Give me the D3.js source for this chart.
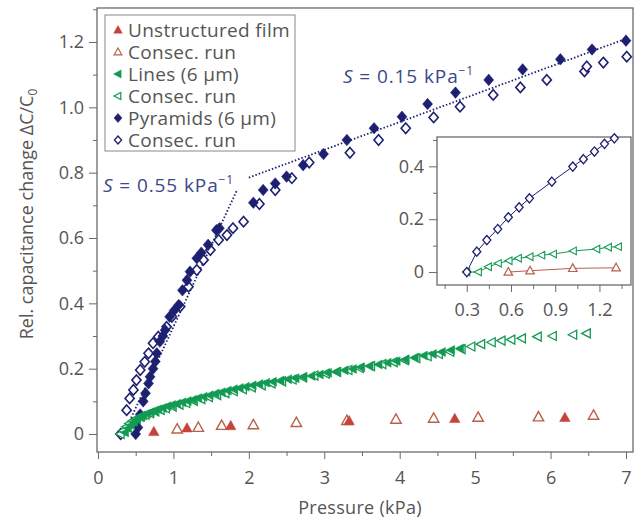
<!DOCTYPE html>
<html>
<head>
<meta charset="utf-8">
<script src="https://cdn.jsdelivr.net/npm/d3@7"></script>
<style>
  body { margin: 0; background: #fff; }
  svg text { font-family: "Open Sans", sans-serif; fill: #555; }
</style>
</head>
<body>
<svg id="chart" width="638" height="520"></svg>
<script>
// pressure (kPa), relative capacitance change
const pyramidsRun1 = [
  [0.50, 0.0], [0.53, 0.02], [0.56, 0.06], [0.60, 0.10], [0.63, 0.125], [0.67, 0.155],
  [0.69, 0.175], [0.73, 0.20], [0.76, 0.222], [0.78, 0.247], [0.82, 0.283], [0.86, 0.30],
  [0.89, 0.318], [0.95, 0.359], [1.01, 0.378], [1.07, 0.395], [1.12, 0.44], [1.18, 0.471],
  [1.22, 0.497], [1.31, 0.538], [1.37, 0.555], [1.46, 0.579], [1.57, 0.624], [1.61, 0.630],
  [2.06, 0.708], [2.19, 0.747], [2.35, 0.767], [2.50, 0.788], [2.72, 0.823], [2.99, 0.857],
  [3.30, 0.900], [3.66, 0.936], [4.03, 0.971], [4.37, 1.010], [4.74, 1.045], [5.18, 1.084],
  [5.63, 1.116], [6.13, 1.147], [6.55, 1.177], [7.00, 1.204]
];
const pyramidsRun2 = [
  [0.30, 0.0], [0.38, 0.073], [0.42, 0.109], [0.47, 0.135], [0.51, 0.165], [0.56, 0.196],
  [0.62, 0.221], [0.67, 0.247], [0.73, 0.278], [0.80, 0.298], [0.91, 0.328], [0.98, 0.359],
  [1.09, 0.390], [1.20, 0.451], [1.31, 0.502], [1.40, 0.533], [1.49, 0.563], [1.60, 0.594],
  [1.71, 0.609], [1.79, 0.630], [1.93, 0.650], [2.14, 0.704], [2.35, 0.747], [2.57, 0.783],
  [2.80, 0.831], [3.34, 0.861], [3.72, 0.900], [4.08, 0.936], [4.45, 0.969], [4.80, 1.002],
  [5.24, 1.038], [5.60, 1.061], [5.95, 1.084], [6.45, 1.110], [6.48, 1.125], [6.70, 1.137],
  [7.01, 1.155]
];
const linesRun1 = [
  [0.36, 0.005], [0.40, 0.018], [0.44, 0.028], [0.48, 0.038], [0.52, 0.045], [0.56, 0.051],
  [0.60, 0.057], [0.65, 0.062], [0.70, 0.067], [0.75, 0.071], [0.80, 0.076], [0.86, 0.080],
  [0.92, 0.085], [0.98, 0.089], [1.05, 0.093], [1.12, 0.097], [1.19, 0.101], [1.26, 0.105],
  [1.33, 0.110], [1.40, 0.114], [1.48, 0.119], [1.56, 0.124], [1.64, 0.128], [1.72, 0.133],
  [1.80, 0.137], [1.88, 0.141], [1.96, 0.145], [2.05, 0.149], [2.14, 0.153], [2.23, 0.157],
  [2.32, 0.160], [2.42, 0.164], [2.52, 0.168], [2.62, 0.171], [2.72, 0.175], [2.83, 0.178],
  [2.94, 0.182], [3.05, 0.187], [3.16, 0.191], [3.27, 0.195], [3.38, 0.199], [3.49, 0.204],
  [3.60, 0.208], [3.72, 0.213], [3.84, 0.218], [3.96, 0.223], [4.08, 0.228], [4.20, 0.234],
  [4.32, 0.240], [4.44, 0.245], [4.56, 0.251], [4.68, 0.257], [4.80, 0.262]
];
const linesRun2 = [
  [0.30, 0.0], [0.34, 0.010], [0.38, 0.022], [0.42, 0.032], [0.46, 0.040], [0.51, 0.047],
  [0.57, 0.054], [0.63, 0.059], [0.69, 0.064], [0.76, 0.069], [0.83, 0.074], [0.90, 0.079],
  [0.99, 0.084], [1.08, 0.090], [1.17, 0.095], [1.27, 0.101], [1.37, 0.107], [1.47, 0.113],
  [1.58, 0.119], [1.69, 0.125], [1.80, 0.131], [1.92, 0.137], [2.04, 0.143], [2.17, 0.149],
  [2.30, 0.155], [2.44, 0.161], [2.58, 0.167], [2.72, 0.173], [2.87, 0.179], [3.02, 0.185],
  [3.17, 0.190], [3.32, 0.196], [3.47, 0.202], [3.62, 0.208], [3.77, 0.214], [3.92, 0.220],
  [4.07, 0.226], [4.22, 0.232], [4.37, 0.238], [4.52, 0.245], [4.67, 0.252], [4.82, 0.260],
  [4.95, 0.268], [5.08, 0.275], [5.22, 0.281], [5.35, 0.286], [5.48, 0.289], [5.62, 0.293],
  [5.83, 0.298], [6.03, 0.300], [6.30, 0.304], [6.48, 0.308]
];
const filmRun1 = [[0.74, 0.007], [1.18, 0.018], [1.76, 0.025], [3.33, 0.040], [4.73, 0.047], [6.19, 0.050]];
const filmRun2 = [
  [1.05, 0.015], [1.33, 0.020], [1.64, 0.026], [2.06, 0.028], [2.63, 0.035], [3.30, 0.041],
  [3.95, 0.045], [4.45, 0.048], [5.04, 0.051], [5.84, 0.052], [6.57, 0.057]
];
// dotted sensitivity fits, end points
const fitLow = [[0.40, 0.03], [1.84, 0.745]];
const fitHigh = [[2.0, 0.785], [7.0, 1.21]];

// inset: consecutive runs at low pressure
const insetPyramids = [
  [0.30, 0.0], [0.368, 0.077], [0.436, 0.121], [0.51, 0.163], [0.582, 0.207], [0.655, 0.245],
  [0.725, 0.279], [0.877, 0.342], [1.019, 0.399], [1.091, 0.427], [1.166, 0.456], [1.234, 0.485],
  [1.301, 0.506]
];
const insetLines = [
  [0.30, 0.0], [0.379, 0.0], [0.447, 0.020], [0.514, 0.033], [0.587, 0.043], [0.65, 0.052],
  [0.729, 0.058], [0.809, 0.064], [0.888, 0.068], [1.023, 0.080], [1.182, 0.087], [1.261, 0.094],
  [1.329, 0.096]
];
const insetFilm = [[0.582, 0.0], [0.729, 0.005], [1.019, 0.014], [1.313, 0.016]];

const xTicks = [0, 1, 2, 3, 4, 5, 6, 7];
const yTicks = [0, 0.2, 0.4, 0.6, 0.8, 1.0, 1.2];
const insetXTicks = [0.3, 0.6, 0.9, 1.2];
const insetYTicks = [0, 0.2, 0.4];
const legendLabels = ['Unstructured film', 'Consec. run', 'Lines (6 \u00b5m)', 'Consec. run', 'Pyramids (6 \u00b5m)', 'Consec. run'];

const navy = '#1d2070', green = '#139a52', red = '#c4433a', redOpen = '#b9604a', axisCol = '#6a6a6a';

const svg = d3.select('#chart');

// main plot area
const L = 97, R = 633, T = 8, B = 452;
const x = d3.scaleLinear().domain([-0.013, 7.093]).range([L, R]);
const y = d3.scaleLinear().domain([-0.055, 1.304]).range([B, T]);

// symbol paths
function diamond(w, h) { return `M0,${-h}L${w},0L0,${h}L${-w},0Z`; }
function triUp(s) { return `M0,${-s}L${s * 0.95},${s * 0.7}L${-s * 0.95},${s * 0.7}Z`; }
function triLeft(s) { return `M${-s},0L${s * 0.7},${-s * 0.9}L${s * 0.7},${s * 0.9}Z`; }

function drawPoints(g, data, sx, sy, path, fill, stroke, sw) {
  g.append('g').selectAll('path')
    .data(data)
    .enter().append('path')
    .attr('transform', d => `translate(${sx(d[0])},${sy(d[1])})`)
    .attr('d', path)
    .attr('fill', fill)
    .attr('stroke', stroke)
    .attr('stroke-width', sw);
}

function frameAxes(g, sx, sy, xMajor, yMajor, xMinor, yMinor, bottom, left, fmtX, fmtY, xPad) {
  let xa = g.append('g').attr('transform', `translate(0,${bottom})`)
    .call(d3.axisBottom(sx).tickValues(xMajor).tickSize(7).tickPadding(xPad).tickFormat(fmtX));
  let xm = g.append('g').attr('transform', `translate(0,${bottom})`)
    .call(d3.axisBottom(sx).tickValues(xMinor).tickSize(4).tickFormat(''));
  let ya = g.append('g').attr('transform', `translate(${left},0)`)
    .call(d3.axisLeft(sy).tickValues(yMajor).tickSize(8).tickPadding(5).tickFormat(fmtY));
  let ym = g.append('g').attr('transform', `translate(${left},0)`)
    .call(d3.axisLeft(sy).tickValues(yMinor).tickSize(4).tickFormat(''));
  [xa, xm, ya, ym].forEach(a => {
    a.select('.domain').remove();
    a.selectAll('line').attr('stroke', axisCol);
    a.selectAll('text').attr('font-size', 18).attr('fill', '#5a5a5a').attr('font-family', '"Open Sans", sans-serif');
  });
}

const fmtY = d => d === 0 ? '0' : d3.format('.1f')(d);

frameAxes(svg, x, y, xTicks, yTicks,
  d3.range(0.5, 7.01, 1), d3.range(0.1, 1.31, 0.2), B, L,
  d3.format('d'), fmtY, 12);

svg.append('rect')
  .attr('x', L).attr('y', T).attr('width', R - L).attr('height', B - T)
  .attr('fill', 'none').attr('stroke', axisCol).attr('stroke-width', 1.3);

// fits
const line = d3.line().x(d => x(d[0])).y(d => y(d[1]));
[fitLow, fitHigh].forEach(f => {
  svg.append('path').attr('d', line(f))
    .attr('fill', 'none').attr('stroke', navy).attr('stroke-width', 1.8)
    .attr('stroke-dasharray', '1.5,2');
});

const plot = svg.append('g');
drawPoints(plot, pyramidsRun2, x, y, diamond(4.6, 5.2), '#fff', navy, 1.6);
drawPoints(plot, pyramidsRun1, x, y, diamond(5, 5.8), navy, navy, 0.5);
drawPoints(plot, linesRun2, x, y, triLeft(5), '#fff', green, 1.3);
drawPoints(plot, linesRun1, x, y, triLeft(5), green, green, 0.5);
drawPoints(plot, filmRun2, x, y, triUp(5.5), '#fff', redOpen, 1.4);
drawPoints(plot, filmRun1, x, y, triUp(5.5), red, red, 0.5);

// annotations
function slopeLabel(px, py, val) {
  let t = svg.append('text').attr('x', px).attr('y', py)
    .attr('font-size', 19).attr('letter-spacing', 0.9).style('fill', '#3d4888');
  t.append('tspan').attr('font-style', 'italic').text('S');
  t.append('tspan').text(` = ${val} kPa`);
  t.append('tspan').attr('dy', -8).attr('font-size', 12).text('\u22121');
}
slopeLabel(103, 192, '0.55');
slopeLabel(343, 83, '0.15');

// legend
const lg = svg.append('g');
lg.append('rect').attr('x', 105).attr('y', 15).attr('width', 190).attr('height', 136)
  .attr('fill', '#fff').attr('stroke', '#888').attr('stroke-width', 1);
const legendMarks = [
  [triUp(4.5), red, red, 0.5], [triUp(4), '#fff', redOpen, 1.2],
  [triLeft(4.5), green, green, 0.5], [triLeft(4), '#fff', green, 1.2],
  [diamond(4, 4.6), navy, navy, 0.5], [diamond(3.6, 4), '#fff', navy, 1.3]
];
legendLabels.forEach((lab, i) => {
  let cy = 30 + i * 22;
  let m = legendMarks[i];
  lg.append('path').attr('transform', `translate(118,${cy})`).attr('d', m[0])
    .attr('fill', m[1]).attr('stroke', m[2]).attr('stroke-width', m[3]);
  lg.append('text').attr('x', 128).attr('y', cy + 7).attr('font-size', 19)
    .attr('letter-spacing', 0.3).text(lab);
});

// axis titles
svg.append('text').attr('x', 360).attr('y', 514).attr('text-anchor', 'middle')
  .attr('font-size', 18).attr('letter-spacing', 0.3).text('Pressure (kPa)');
const yt = svg.append('text').attr('transform', 'translate(33,214) rotate(-90)')
  .attr('text-anchor', 'middle').attr('font-size', 18);
yt.append('tspan').text('Rel. capacitance change \u0394C/C');
yt.append('tspan').attr('dy', 4).attr('font-size', 12).text('0');

// inset
const iL = 437, iR = 631, iT = 137, iB = 285;
const ix = d3.scaleLinear().domain([0.098, 1.414]).range([iL, iR]);
const iy = d3.scaleLinear().domain([-0.049, 0.511]).range([iB, iT]);
const ins = svg.append('g');
ins.append('rect').attr('x', iL).attr('y', iT).attr('width', iR - iL).attr('height', iB - iT)
  .attr('fill', '#fff');
frameAxes(ins, ix, iy, insetXTicks, insetYTicks,
  [0.15, 0.45, 0.75, 1.05, 1.35], [0.1, 0.3, 0.5], iB, iL,
  d3.format('.1f'), fmtY, 11);
ins.append('rect').attr('x', iL).attr('y', iT).attr('width', iR - iL).attr('height', iB - iT)
  .attr('fill', 'none').attr('stroke', axisCol).attr('stroke-width', 1.3);

const iline = d3.line().x(d => ix(d[0])).y(d => iy(d[1]));
[[insetFilm, redOpen], [insetLines, green], [insetPyramids, navy]].forEach(s => {
  ins.append('path').attr('d', iline(s[0])).attr('fill', 'none')
    .attr('stroke', s[1]).attr('stroke-width', 1);
});
drawPoints(ins, insetFilm, ix, iy, triUp(4.5), '#fff', redOpen, 1.2);
drawPoints(ins, insetLines, ix, iy, triLeft(4.2), '#fff', green, 1.1);
drawPoints(ins, insetPyramids, ix, iy, diamond(4, 4.6), '#fff', navy, 1.3);
</script>
</body>
</html>
